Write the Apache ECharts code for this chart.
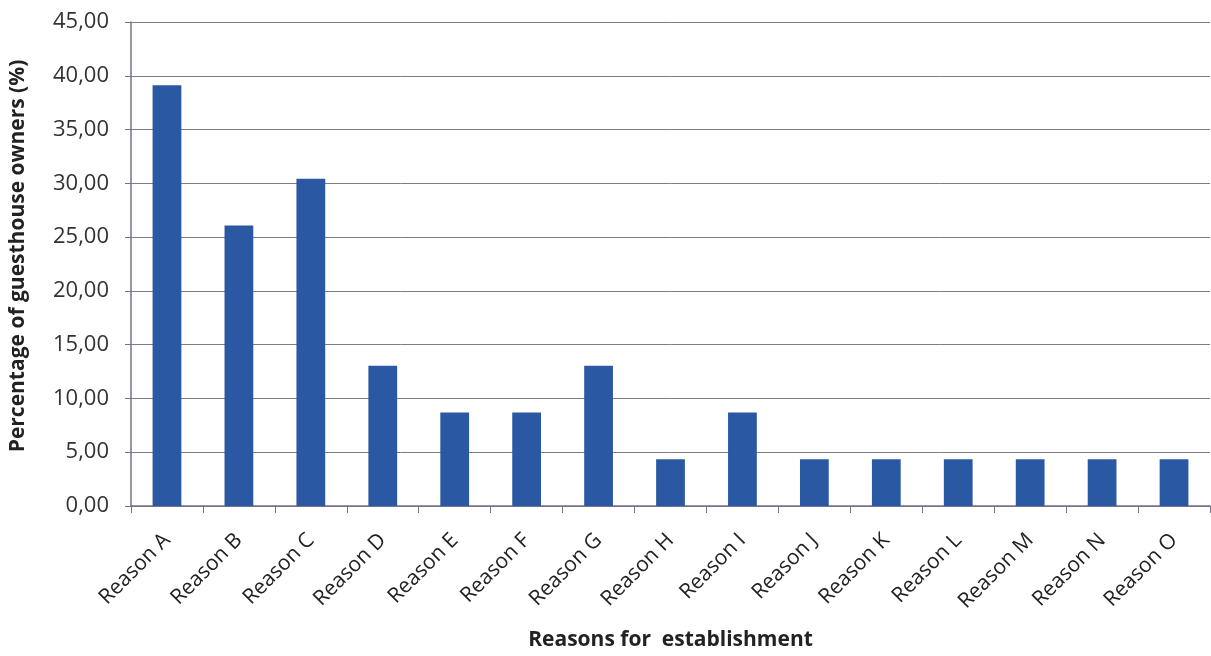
<!DOCTYPE html>
<html>
<head>
<meta charset="utf-8">
<script src="https://cdn.jsdelivr.net/npm/echarts@6/dist/echarts.min.js"></script>
<style>
html,body{margin:0;padding:0;background:#ffffff;}
#chart{width:1211px;height:656px;}
</style>
</head>
<body>
<div id="chart"></div>
<script>
const categories = ["Reason A","Reason B","Reason C","Reason D","Reason E","Reason F","Reason G","Reason H","Reason I","Reason J","Reason K","Reason L","Reason M","Reason N","Reason O"];
const values = [39.13,26.09,30.43,13.04,8.70,8.70,13.04,4.35,8.70,4.35,4.35,4.35,4.35,4.35,4.35];
const yTicks = {min:0, max:45, interval:5};
const xTitle = "Reasons for  establishment";
const yTitle = "Percentage of guesthouse owners (%)";

const chart = echarts.init(document.getElementById('chart'));
const font = "'Open Sans', 'DejaVu Sans', sans-serif";
chart.setOption({
  backgroundColor:'#ffffff',
  animation:false,
  grid:{left:131,right:1,top:22,bottom:150,containLabel:false,outerBoundsMode:'none'},
  xAxis:{
    type:'category',
    data:categories,
    boundaryGap:true,
    name:xTitle,
    nameLocation:'middle',
    nameGap:124,
    nameTextStyle:{fontFamily:font,fontSize:21,fontWeight:'bold',color:'#222'},
    axisLine:{lineStyle:{color:'#7a6f8a',width:1.5}},
    axisTick:{show:true,alignWithLabel:false,length:7,lineStyle:{color:'#7a6f8a'}},
    axisLabel:{rotate:45,fontFamily:font,fontSize:21,color:'#222',margin:31,interval:0}
  },
  yAxis:{
    type:'value',
    min:yTicks.min,max:yTicks.max,interval:yTicks.interval,
    name:yTitle,
    nameLocation:'middle',
    nameGap:102,
    nameTextStyle:{fontFamily:font,fontSize:21,fontWeight:'bold',color:'#222',padding:[0,0,0,16]},
    axisLine:{show:true,lineStyle:{color:'#7a6f8a',width:1.5}},
    axisTick:{show:true,length:6,inside:false,lineStyle:{color:'#7a6f8a'}},
    axisLabel:{fontFamily:font,fontSize:22,color:'#333',margin:22,
      formatter:v=>v.toFixed(2).replace('.',',')},
    splitLine:{lineStyle:{color:'#7f7a8c',width:1}}
  },
  series:[{
    type:'bar',
    data:values,
    barWidth:'40%',
    itemStyle:{color:'#2b58a3'}
  }]
});
</script>
</body>
</html>
